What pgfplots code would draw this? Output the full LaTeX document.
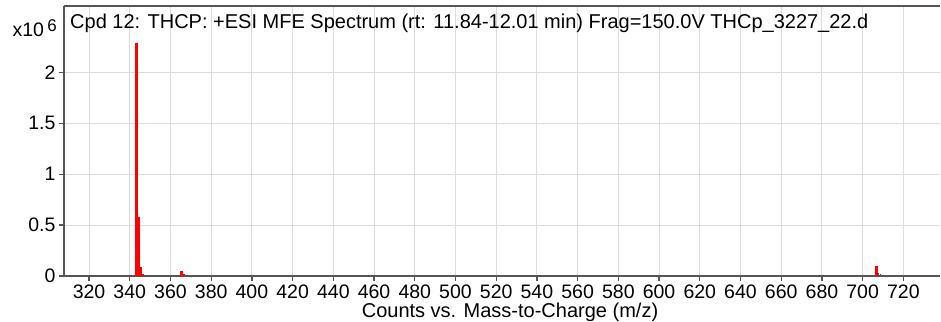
\documentclass[border=0pt]{standalone}
\usepackage{pgfplots}
\pgfplotsset{compat=1.18}
\usepackage{fontspec}
\setmainfont{Liberation Sans}
\definecolor{gridc}{HTML}{DCDCDC}
\definecolor{axc}{HTML}{555555}
\definecolor{pk}{HTML}{FF0000}
\begin{document}
\begin{tikzpicture}
\begin{axis}[
  name=ax,
  scale only axis,
  width=876pt, height=270pt,
  xmin=307.7, xmax=738,
  ymin=0, ymax=2.65,
  xtick={320,340,...,720},
  ytick={0,0.5,1,1.5,2},
  yticklabels={0,0.5,1,1.5,2},
  /pgf/number format/assume math mode=true,
  xticklabel style={/pgf/number format/1000 sep={}},
  tick label style={font=\fontsize{19.5}{22}\selectfont, text=black},
  xlabel={Counts vs. Mass-to-Charge (m/z)},
  xlabel style={font=\fontsize{20}{22}\selectfont, at={(rel axis cs:0.5,0)}, anchor=center, yshift=-36pt, xshift=8pt},
  grid=major,
  major grid style={gridc, line width=1pt},
  axis line style={axc, line width=1.5pt},
  axis x line*=bottom,
  axis y line*=left,
  tick align=outside,
  major tick length=5pt,
  tick style={axc, line width=1.2pt},
  xtick pos=bottom, ytick pos=left,
  clip=false,
]
\addplot[ycomb, pk, line width=3pt] coordinates {
  (343.2,2.29) (344.2,0.58) (345.2,0.09) (346.1,0.02)
  (365.2,0.052) (366.2,0.015)
  (707.0,0.098)
};
\addplot[ycomb, black!70, line width=1pt] coordinates {
  (708.0,0.03) (709.0,0.015)
};
\draw[axc, line width=1.5pt] (rel axis cs:0,1) -- (rel axis cs:1,1);
\node[anchor=north west, font=\fontsize{20}{22}\selectfont, inner sep=0pt] at ([xshift=6pt,yshift=-8pt]rel axis cs:0,1)
  {Cpd 12: THCP: +ESI MFE Spectrum (rt: 11.84-12.01 min) Frag=150.0V THCp\_3227\_22.d};
\node[anchor=north east, font=\fontsize{19.5}{22}\selectfont, inner sep=0pt] at ([xshift=-7pt,yshift=-13pt]rel axis cs:0,1)
  {x10\,\raisebox{0.5ex}{\fontsize{17}{19}\selectfont 6}};
\end{axis}
\pgfresetboundingbox
\path (ax.south west) ++(-64pt,-45pt) rectangle ++(941pt,321pt);
\end{tikzpicture}
\end{document}
